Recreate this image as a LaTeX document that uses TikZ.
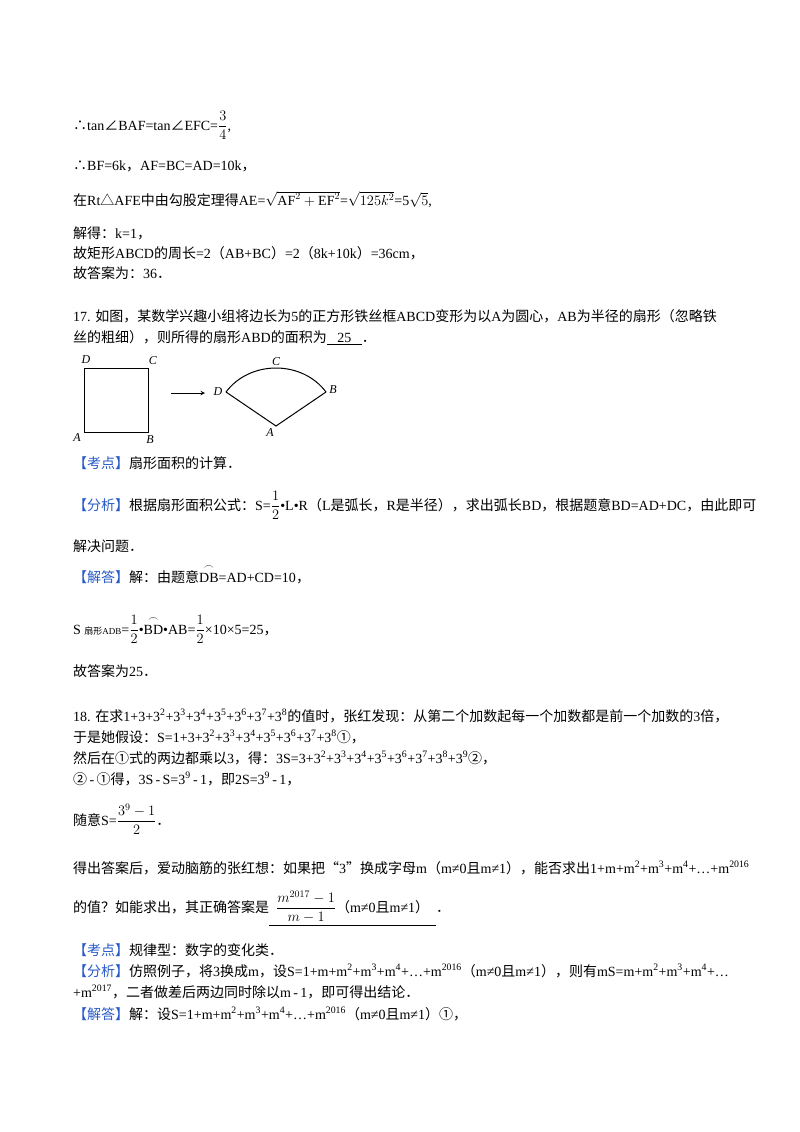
\documentclass[tikz,border=0pt]{standalone}
\usepackage{amsmath}
\usepackage{fontspec}
\setmainfont{Liberation Serif}
\newfontfamily\cjk{Noto Sans CJK SC}
\newcommand\zh[1]{{\cjk #1}}
\newcommand\sq[1]{\textsuperscript{#1}}
\definecolor{kblue}{RGB}{40,90,200}
\begin{document}
\begin{tikzpicture}[x=1pt,y=-1pt,
  ln/.style={anchor=base west,inner sep=0pt,font=\fontsize{14}{16}\selectfont},
  lab/.style={inner sep=0pt,font=\fontsize{12}{14}\selectfont\itshape},
  edge/.style={line width=1pt}]
\useasboundingbox (0,0) rectangle (800,1132);
\node[ln] (l1) at (73,130) {\zh{∴}tan\zh{∠}BAF=tan\zh{∠}EFC=$\dfrac{3}{4}$,};
\node[ln] (l2) at (73,170) {\zh{∴}BF=6k\zh{，}AF=BC=AD=10k\zh{，}};
\node[ln] (l3) at (73,205) {\zh{在}Rt\zh{△}AFE\zh{中由勾股定理得}AE=$\sqrt{\mathrm{AF}^2+\mathrm{EF}^2}$=$\sqrt{125k^2}$=5$\sqrt{5}$,};
\node[ln] (l4) at (73,238) {\zh{解得：}k=1\zh{，}};
\node[ln] (l5) at (73,258) {\zh{故矩形}ABCD\zh{的周长}=2\zh{（}AB+BC\zh{）}=2\zh{（}8k+10k\zh{）}=36cm\zh{，}};
\node[ln] (l6) at (73,278) {\zh{故答案为：}36\zh{．}};
\node[ln] (l7) at (73,321) {17. \zh{如图，某数学兴趣小组将边长为}5\zh{的正方形铁丝框}ABCD\zh{变形为以}A\zh{为圆心，}AB\zh{为半径的扇形（忽略铁}};
\node[ln] (l8) at (73,342) {\zh{丝的粗细），则所得的扇形}ABD\zh{的面积为}\underline{\ \ \ 25\ \ \ }\zh{．}};
% figure
\coordinate (sA) at (84,432); \coordinate (sB) at (148,432);
\coordinate (sC) at (148,368); \coordinate (sD) at (84,368);
\draw[edge] (sA) -- (sB) -- (sC) -- (sD) -- cycle;
\node[lab] (tD) at (86,360) {D};
\node[lab] (tC) at (153,361) {C};
\node[lab] (tA) at (77,438) {A};
\node[lab] (tB) at (150,440) {B};
\coordinate (ar1) at (171,393); \coordinate (ar2) at (205,393);
\draw[edge,-stealth] (ar1) -- (ar2);
\coordinate (fA) at (276,426); \coordinate (fD) at (226,392); \coordinate (fB) at (326,392);
\draw[edge] (fD) -- (fA) -- (fB);
\draw[edge] (fD) .. controls (250,360) and (302,360) .. (fB);
\node[lab] (tD2) at (218,392) {D};
\node[lab] (tC2) at (276,362) {C};
\node[lab] (tB2) at (333,390) {B};
\node[lab] (tA2) at (270,433) {A};
%
\node[ln] (l9) at (73,468) {\zh{\color{kblue}【考点】}\zh{扇形面积的计算．}};
\node[ln] (l10) at (73,510) {\zh{\color{kblue}【分析】}\zh{根据扇形面积公式：}S=$\dfrac{1}{2}$•L•R\zh{（}L\zh{是弧长，}R\zh{是半径），求出弧长}BD\zh{，根据题意}BD=AD+DC\zh{，由此即可}};
\node[ln] (l11) at (73,551) {\zh{解决问题．}};
\node[ln] (l12) at (73,582) {\zh{\color{kblue}【解答】}\zh{解：由题意}$\overset{\frown}{\mathrm{DB}}$=AD+CD=10\zh{，}};
\node[ln] (l13) at (73,634) {S {\fontsize{9}{10}\selectfont\zh{扇形}ADB}=$\dfrac{1}{2}$•$\overset{\frown}{\mathrm{BD}}$•AB=$\dfrac{1}{2}$×10×5=25\zh{，}};
\node[ln] (l14) at (73,676) {\zh{故答案为}25\zh{．}};
\node[ln] (l15) at (73,721) {18. \zh{在求}1+3+3\sq2+3\sq3+3\sq4+3\sq5+3\sq6+3\sq7+3\sq8\zh{的值时，张红发现：从第二个加数起每一个加数都是前一个加数的}3\zh{倍，}};
\node[ln] (l16) at (73,742) {\zh{于是她假设：}S=1+3+3\sq2+3\sq3+3\sq4+3\sq5+3\sq6+3\sq7+3\sq8\zh{①，}};
\node[ln] (l17) at (73,763) {\zh{然后在①式的两边都乘以}3\zh{，得：}3S=3+3\sq2+3\sq3+3\sq4+3\sq5+3\sq6+3\sq7+3\sq8+3\sq9\zh{②，}};
\node[ln] (l18) at (73,784) {\zh{②}\,-\,\zh{①得，}3S\,-\,S=3\sq9\,-\,1\zh{，即}2S=3\sq9\,-\,1\zh{，}};
\node[ln] (l19) at (73,825) {\zh{随意}S=$\dfrac{3^9-1}{2}$\zh{．}};
\node[ln] (l20) at (73,873) {\zh{得出答案后，爱动脑筋的张红想：如果把“}3\zh{”换成字母}m\zh{（}m≠0\zh{且}m≠1\zh{），能否求出}1+m+m\sq2+m\sq3+m\sq4+…+m\sq{2016}};
\node[ln] (l21) at (73,912) {\zh{的值？如能求出，其正确答案是}\underline{\ \ $\dfrac{m^{2017}-1}{m-1}$\zh{（}m≠0\zh{且}m≠1\zh{）}\ \ }\zh{．}};
\node[ln] (l22) at (73,955) {\zh{\color{kblue}【考点】}\zh{规律型：数字的变化类．}};
\node[ln] (l23) at (73,976) {\zh{\color{kblue}【分析】}\zh{仿照例子，将}3\zh{换成}m\zh{，设}S=1+m+m\sq2+m\sq3+m\sq4+…+m\sq{2016}\zh{（}m≠0\zh{且}m≠1\zh{），则有}mS=m+m\sq2+m\sq3+m\sq4+…};
\node[ln] (l24) at (73,997) {+m\sq{2017}\zh{，二者做差后两边同时除以}m\,-\,1\zh{，即可得出结论．}};
\node[ln] (l25) at (73,1019) {\zh{\color{kblue}【解答】}\zh{解：设}S=1+m+m\sq2+m\sq3+m\sq4+…+m\sq{2016}\zh{（}m≠0\zh{且}m≠1\zh{）①，}};
\end{tikzpicture}
\end{document}
